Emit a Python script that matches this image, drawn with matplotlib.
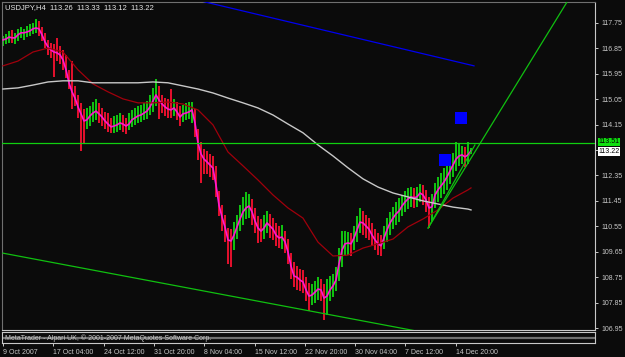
import matplotlib
matplotlib.use("Agg")
import matplotlib.pyplot as plt
import matplotlib.transforms as mtransforms
import numpy as np

plt.rcParams['font.family'] = ['Liberation Sans', 'DejaVu Sans']

# ---- data (USDJPY H4) ----
symbol = "USDJPY,H4"
last_ohlc = [113.26, 113.33, 113.12, 113.22]

close = [117.15, 117.18, 117.25, 117.22, 117.22, 117.33, 117.40, 117.40, 117.43, 117.47,
         117.54, 117.57, 117.54, 117.33, 117.08, 116.90, 116.79, 116.72, 116.69, 116.62,
         116.44, 116.09, 115.63, 115.31, 115.09, 114.78, 114.53, 114.28, 114.32, 114.46,
         114.56, 114.63, 114.53, 114.42, 114.28, 114.17, 114.07, 114.10, 114.14, 114.21,
         114.17, 114.10, 114.17, 114.32, 114.39, 114.46, 114.49, 114.56, 114.63, 114.78,
         114.99, 115.20, 115.02, 114.88, 114.78, 114.70, 114.67, 114.74, 114.60, 114.42,
         114.53, 114.56, 114.60, 114.67, 114.21, 113.50, 113.11, 112.93, 112.83, 112.72,
         112.61, 112.01, 111.30, 110.88, 110.52, 110.07, 110.03, 110.24, 110.53, 110.81,
         111.06, 111.20, 111.27, 111.06, 110.74, 110.49, 110.38, 110.49, 110.67, 110.56,
         110.45, 110.24, 110.14, 110.17, 110.00, 109.64, 109.14, 108.79, 108.75, 108.65,
         108.58, 108.30, 108.08, 108.12, 108.22, 108.33, 108.30, 108.01, 108.08, 108.30,
         108.44, 108.65, 109.22, 109.71, 109.93, 109.96, 109.93, 110.14, 110.42, 110.70,
         110.67, 110.56, 110.45, 110.24, 110.07, 109.93, 109.86, 110.14, 110.42, 110.67,
         110.84, 110.99, 111.09, 111.27, 111.41, 111.52, 111.59, 111.56, 111.59, 111.73,
         111.66, 111.48, 111.20, 111.24, 111.66, 111.84, 111.98, 112.12, 112.30, 112.51,
         112.72, 112.93, 113.04, 113.08, 113.01, 113.08, 113.22]

high = [117.30, 117.35, 117.45, 117.50, 117.40, 117.55, 117.60, 117.55, 117.65, 117.70,
        117.75, 117.90, 117.80, 117.60, 117.40, 117.15, 117.05, 117.00, 117.20, 116.95,
        116.80, 116.60, 116.10, 116.40, 115.50, 115.20, 114.90, 114.70, 114.75, 114.80,
        114.95, 115.05, 114.90, 114.75, 114.60, 114.55, 114.40, 114.45, 114.50, 114.55,
        114.50, 114.40, 114.55, 114.65, 114.75, 114.80, 114.85, 114.90, 115.00, 115.20,
        115.45, 115.75, 115.50, 115.20, 115.10, 115.05, 115.40, 115.05, 114.95, 114.80,
        114.85, 114.90, 114.95, 114.95, 114.70, 114.00, 113.55, 113.30, 113.20, 113.10,
        113.05, 112.70, 111.80, 111.30, 110.95, 110.50, 110.45, 110.70, 110.95, 111.30,
        111.60, 111.75, 111.70, 111.50, 111.20, 110.90, 110.80, 110.95, 111.10, 111.00,
        110.85, 110.65, 110.55, 110.60, 110.40, 110.10, 109.60, 109.30, 109.15, 109.05,
        109.00, 108.75, 108.55, 108.50, 108.60, 108.75, 108.70, 108.50, 108.70, 108.80,
        108.85, 109.10, 109.80, 110.40, 110.40, 110.35, 110.30, 110.55, 110.90, 111.20,
        111.10, 110.95, 110.85, 110.65, 110.45, 110.30, 110.25, 110.55, 110.85, 111.05,
        111.25, 111.40, 111.55, 111.65, 111.80, 111.90, 111.95, 111.90, 111.95, 112.05,
        112.00, 111.85, 111.60, 111.70, 112.10, 112.30, 112.45, 112.60, 112.75, 112.90,
        113.15, 113.55, 113.45, 113.40, 113.35, 113.55, 113.33]

low = [116.95, 117.00, 117.05, 117.05, 117.00, 117.10, 117.20, 117.15, 117.25, 117.30,
       117.35, 117.40, 117.30, 117.10, 116.85, 116.60, 116.50, 115.85, 116.40, 116.30,
       116.10, 115.80, 115.40, 114.70, 114.80, 114.40, 113.20, 113.45, 114.00, 114.10,
       114.25, 114.30, 114.20, 114.10, 114.00, 113.90, 113.85, 113.85, 113.90, 113.95,
       113.90, 113.80, 113.95, 114.05, 114.15, 114.20, 114.25, 114.30, 114.35, 114.50,
       114.60, 114.80, 114.35, 114.55, 114.45, 114.40, 114.40, 114.45, 114.30, 114.10,
       114.25, 114.30, 114.35, 114.20, 113.70, 112.90, 112.10, 112.40, 112.40, 112.30,
       112.20, 111.60, 110.90, 110.40, 110.00, 109.20, 109.10, 109.70, 110.10, 110.40,
       110.60, 110.80, 110.85, 110.60, 110.30, 109.95, 110.00, 110.10, 110.30, 110.15,
       110.05, 109.85, 109.80, 109.75, 109.60, 109.20, 108.70, 108.40, 108.30, 108.25,
       108.20, 107.90, 107.55, 107.75, 107.85, 107.95, 107.90, 107.25, 107.40, 107.90,
       108.05, 108.25, 108.60, 109.10, 109.50, 109.55, 109.50, 109.70, 110.00, 110.30,
       110.25, 110.15, 110.05, 109.85, 109.70, 109.55, 109.50, 109.75, 110.00, 110.25,
       110.45, 110.60, 110.70, 110.90, 111.05, 111.15, 111.25, 111.20, 111.25, 111.40,
       111.30, 111.05, 110.50, 110.75, 111.20, 111.40, 111.55, 111.70, 111.85, 112.05,
       112.30, 112.50, 112.70, 112.75, 112.65, 112.75, 113.12]

# moving averages, read every 5 bars
ma_bars = [0, 5, 10, 15, 20, 25, 30, 35, 40, 45, 50, 55, 60, 65, 70, 75, 80,
           85, 90, 95, 100, 105, 110, 115, 120, 125, 130, 135, 140, 145, 150, 155, 156]
ma_red = [116.23, 116.40, 116.72, 116.86, 116.72, 116.09, 115.59, 115.31, 115.06, 114.92,
          114.92, 114.95, 114.88, 114.67, 114.14, 113.18, 112.69, 112.19, 111.66, 111.20,
          110.84, 109.99, 109.50, 109.53, 109.78, 109.93, 110.10, 110.53, 110.81, 111.13,
          111.55, 111.84, 111.91]
ma_white = [115.41, 115.45, 115.55, 115.66, 115.70, 115.70, 115.63, 115.63, 115.63, 115.63,
            115.66, 115.63, 115.52, 115.41, 115.27, 115.09, 114.92, 114.74, 114.49, 114.17,
            113.86, 113.43, 113.04, 112.62, 112.23, 111.94, 111.73, 111.59, 111.45, 111.34,
            111.23, 111.16, 111.13]

# drawn objects (bar index, price)
blue_line_bars, blue_line_px = [67, 157], [118.50, 116.23]
low_line_bars, low_line_px = [0, 138], [109.60, 106.84]
up_line_bars, up_line_px = [141.7, 188], [110.49, 118.49]
up_line2_bars, up_line2_px = [141.7, 157.3], [110.49, 113.43]
level = 113.51
marker_bars = [152.8, 147.3]
marker_px = [114.40, 112.90]

date_labels = ["9 Oct 2007", "17 Oct 04:00", "24 Oct 12:00", "31 Oct 20:00", "8 Nov 04:00",
               "15 Nov 12:00", "22 Nov 20:00", "30 Nov 04:00", "7 Dec 12:00", "14 Dec 20:00"]
price_ticks = [117.75, 116.85, 115.95, 115.05, 114.15, 113.25, 112.35, 111.45,
               110.55, 109.65, 108.75, 107.85, 106.95]

# ---- figure ----
W, H = 625, 357
fig = plt.figure(figsize=(W / 100, H / 100), dpi=100, facecolor='#0b0b0b')
ax = fig.add_axes([2 / W, 27 / H, 593 / W, 328 / H], facecolor='#0b0b0b')
ax2 = fig.add_axes([2 / W, 14 / H, 593 / W, 11 / H], facecolor='#0b0b0b', sharex=ax)

x = np.arange(len(close))
prev = np.array([close[0]] + close[:-1])
cols = np.where(np.array(close) >= prev, '#10c010', '#e0102c')
ax.vlines(x, low, high, colors=cols, linewidth=1.45, zorder=2)
ax.plot(x, close, color='#ff18d0', lw=1.2, zorder=3)
ax.plot(ma_bars, ma_red, color='#a0000c', lw=0.9, zorder=3)
ax.plot(ma_bars, ma_white, color='#c8c8c8', lw=1.0, zorder=3)

ax.plot(blue_line_bars, blue_line_px, color='#0000f0', lw=0.9, zorder=4)
ax.plot(low_line_bars, low_line_px, color='#10c010', lw=0.9, zorder=4)
ax.plot(up_line_bars, up_line_px, color='#10c010', lw=0.9, zorder=4)
ax.plot(up_line2_bars, up_line2_px, color='#10c010', lw=0.9, zorder=4)
ax.axhline(level, color='#10d010', lw=0.9, zorder=4)
ax.scatter(marker_bars, marker_px, marker='s', s=75, color='#0000ff', zorder=5, linewidths=0)

ax.set_xlim(-0.33, 197.33)
ax.set_ylim(106.88, 118.49)

# the 113.25 label sits under the price boxes, so leave it blank
ax.yaxis.tick_right()
ax.set_yticks(price_ticks)
ax.set_yticklabels(["" if abs(p - 113.25) < 0.01 else f"{p:.2f}" for p in price_ticks])
ax.tick_params(axis='y', colors='#c8c8c8', labelsize=5, length=2.5, width=0.7, pad=2)
ax.tick_params(axis='x', bottom=False, labelbottom=False)
for s in ['top', 'left']:
    ax.spines[s].set_color('#707070')
ax.spines['right'].set_color('#c8c8c8')
ax.spines['bottom'].set_color('#c8c8c8')
for s in ax.spines.values():
    s.set_linewidth(0.8)

ax.text(0.005, 0.982, f"{symbol}  " + "  ".join(f"{v:.2f}" for v in last_ohlc),
        transform=ax.transAxes, color='#e8e8e8', fontsize=5.5, va='center', ha='left')

tr = mtransforms.blended_transform_factory(ax.transAxes, ax.transData)
ax.text(1.006, level + 0.03, f"{level:.2f}", transform=tr, fontsize=5, color='black',
        va='center', ha='left', clip_on=False, zorder=10,
        bbox=dict(boxstyle='square,pad=0.08', fc='#10e010', ec='none'))
ax.text(1.006, close[-1] - 0.02, f"{close[-1]:.2f}", transform=tr, fontsize=5, color='black',
        va='center', ha='left', clip_on=False, zorder=10,
        bbox=dict(boxstyle='square,pad=0.08', fc='white', ec='none'))

# collapsed bottom window with copyright line + time axis
ax2.set_ylim(0, 1)
ax2.set_yticks([])
ax2.axhline(0.45, color='#707070', lw=1.6)
ax2.text(0.005, 0.45, "MetaTrader - Alpari UK, \u00a9 2001-2007 MetaQuotes Software Corp.",
         transform=ax2.transAxes, color='#c8c8c8', fontsize=5, va='center', ha='left')
for s in ax2.spines.values():
    s.set_color('#c8c8c8')
    s.set_linewidth(0.8)
tick_pos = np.arange(len(date_labels)) * 16.77
ax2.set_xticks(tick_pos)
ax2.set_xticklabels(date_labels, ha='left')
ax2.tick_params(axis='x', colors='#c8c8c8', labelsize=5, length=2.5, width=0.7, pad=1.5)
ax2.set_xlim(-0.33, 197.33)

fig.savefig("out.png", dpi=100, facecolor=fig.get_facecolor())
